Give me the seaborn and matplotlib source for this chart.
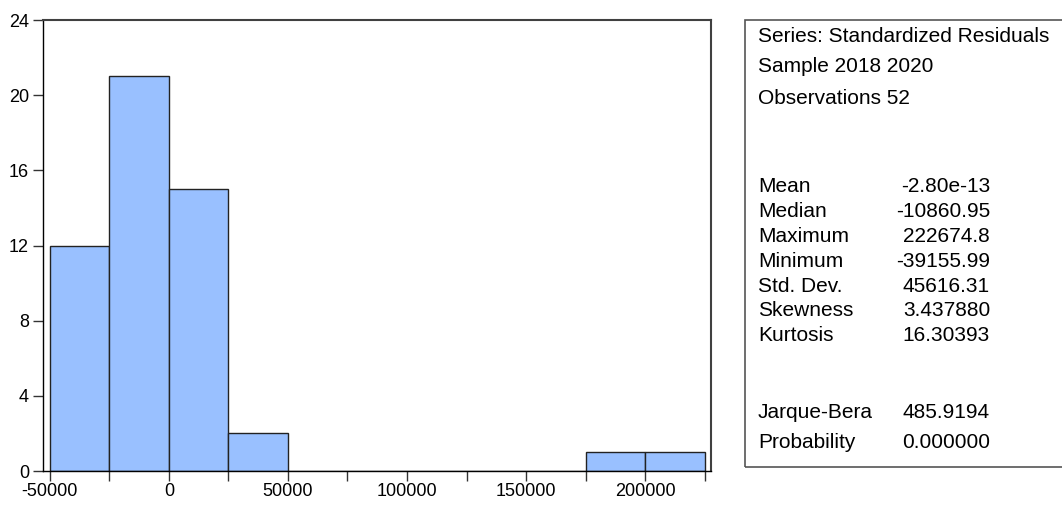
import numpy as np
import pandas as pd
import seaborn as sns
import matplotlib.pyplot as plt
from matplotlib.patches import Rectangle

bin_edges = [-50000, -25000, 0, 25000, 50000, 75000, 100000, 125000,
             150000, 175000, 200000, 225000]
counts = [12, 21, 15, 2, 0, 0, 0, 0, 0, 1, 1]

header_lines = ["Series: Standardized Residuals", "Sample 2018 2020", "Observations 52"]
stat_names = ["Mean", "Median", "Maximum", "Minimum", "Std. Dev.", "Skewness", "Kurtosis"]
stat_values = ["-2.80e-13", "-10860.95", "222674.8", "-39155.99", "45616.31", "3.437880", "16.30393"]
test_names = ["Jarque-Bera", "Probability"]
test_values = ["485.9194", "0.000000"]

sns.set_style("white")
plt.rcParams['font.family'] = ['Liberation Sans', 'DejaVu Sans']
plt.rcParams['axes.unicode_minus'] = False
plt.rcParams['text.color'] = 'black'

W, H = 1062, 509
fig = plt.figure(figsize=(W / 100, H / 100), dpi=100)
ax = fig.add_axes([43 / W, 1 - 471 / H, 668 / W, 451 / H])

edges = np.array(bin_edges)
df = pd.DataFrame({"resid": (edges[:-1] + edges[1:]) / 2, "n": counts})
sns.histplot(data=df, x="resid", weights="n", bins=list(bin_edges), ax=ax,
             color="#99c0ff", alpha=1, edgecolor="#222222", linewidth=1)

ax.set_xlim(-52900, 227700)
ax.set_ylim(0, 24)
ax.set_xticks([-50000, 0, 50000, 100000, 150000, 200000])
ax.set_xticks(edges, minor=True)
ax.set_yticks([0, 4, 8, 12, 16, 20, 24])
ax.set_xlabel("")
ax.set_ylabel("")
ax.tick_params(axis="both", which="both", direction="out", length=7, width=1,
               color="#333333", labelsize=13, labelcolor="black", pad=3,
               bottom=True, left=True, top=False, right=False)
ax.tick_params(axis="x", which="major", pad=2)
for side in ["left", "bottom"]:
    ax.spines[side].set_color("black")
    ax.spines[side].set_linewidth(1)
for side in ["top", "right"]:
    ax.spines[side].set_color("#404040")
    ax.spines[side].set_linewidth(1.5)

# stats box
fig.patches.append(Rectangle((745 / W, 1 - 467 / H), (W + 5 - 745) / W, 447 / H,
                             transform=fig.transFigure, fill=False,
                             edgecolor="#555555", linewidth=1.2))

def put(y, left, right=None):
    fig.text(758 / W, 1 - y / H, left, fontsize=15, va="center", ha="left")
    if right is not None:
        fig.text(990 / W, 1 - y / H, right, fontsize=15, va="center", ha="right")

for y, t in zip([36, 67, 98], header_lines):
    put(y, t)
for i, (n, v) in enumerate(zip(stat_names, stat_values)):
    put(187 + i * 24.8, n, v)
for y, n, v in zip([413, 443], test_names, test_values):
    put(y, n, v)

fig.savefig("out.png", dpi=100)
